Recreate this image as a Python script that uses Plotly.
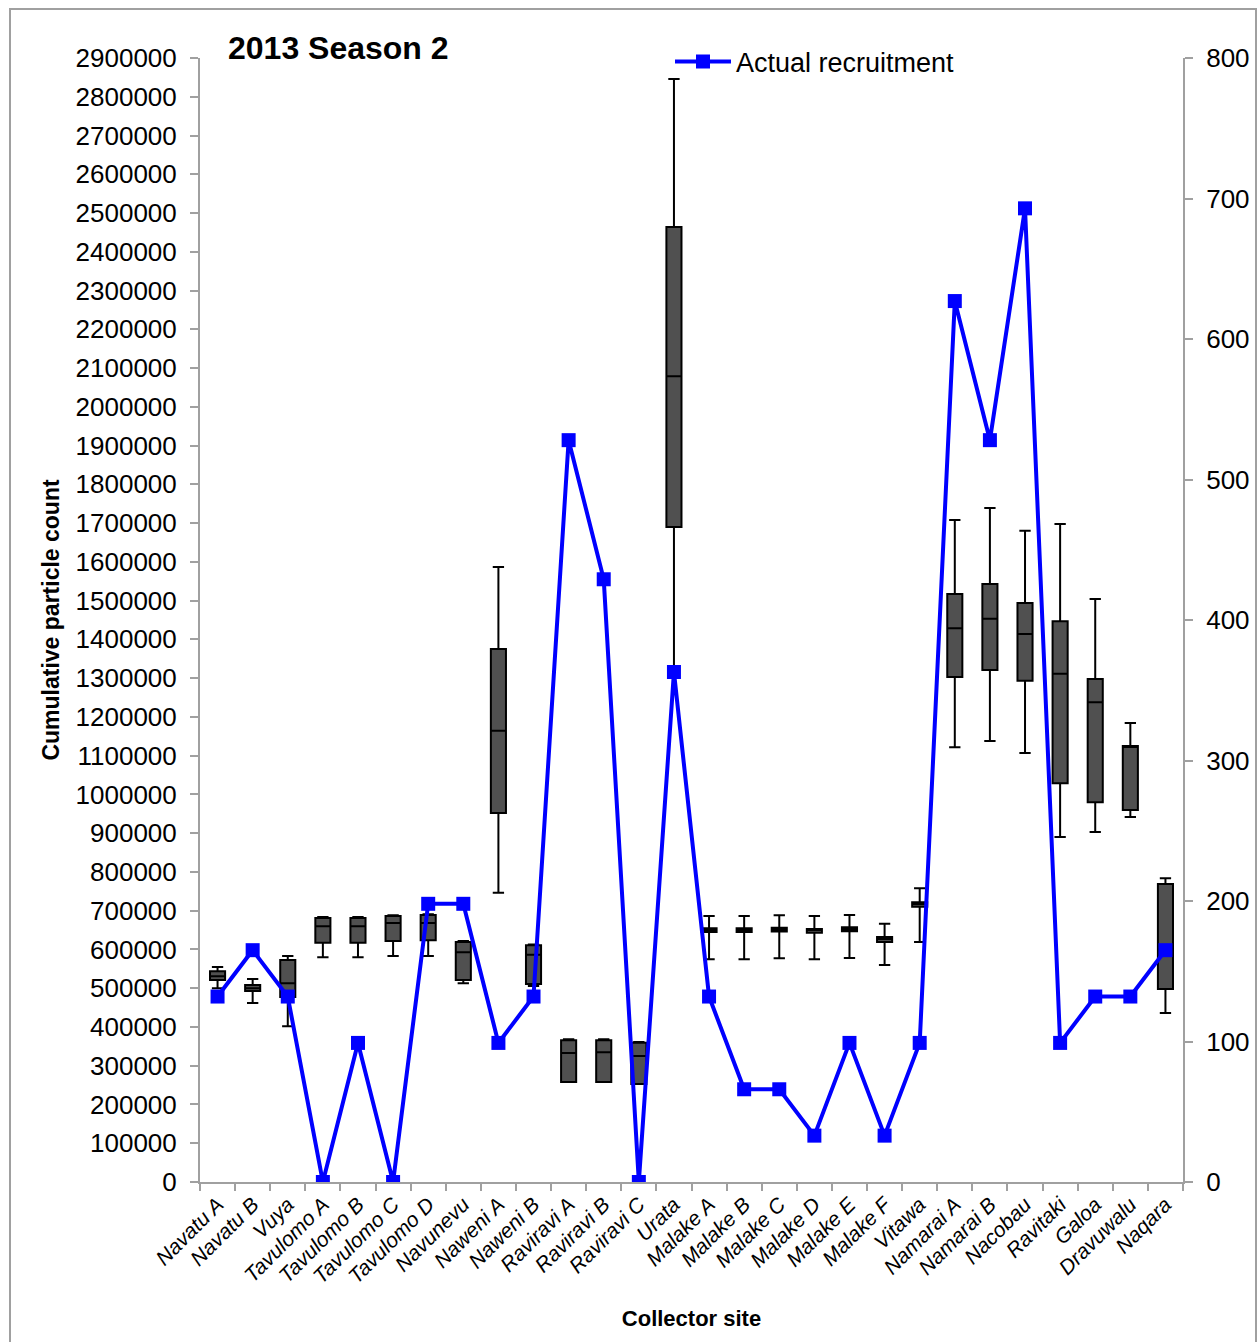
import plotly.graph_objects as go

sites = ["Navatu A", "Navatu B", "Vuya", "Tavulomo A", "Tavulomo B", "Tavulomo C",
         "Tavulomo D", "Navunevu", "Naweni A", "Naweni B", "Raviravi A", "Raviravi B",
         "Raviravi C", "Urata", "Malake A", "Malake B", "Malake C", "Malake D",
         "Malake E", "Malake F", "Vitawa", "Namarai A", "Namarai B", "Nacobau",
         "Ravitaki", "Galoa", "Dravuwalu", "Naqara"]

particle_min = [500000, 462000, 402000, 580000, 580000, 583000, 583000, 513000, 746000, 506000,
                258000, 258000, 253000, 1316000, 575000, 575000, 577000, 575000, 578000, 560000,
                619000, 1122000, 1138000, 1107000, 890000, 903000, 942000, 436000]
particle_q1 = [521000, 493000, 477000, 617000, 617000, 622000, 624000, 521000, 952000, 511000,
               258000, 258000, 253000, 1690000, 645000, 645000, 646000, 643000, 647000, 619000,
               710000, 1303000, 1321000, 1293000, 1029000, 980000, 960000, 498000]
particle_median = [531000, 500000, 513000, 660000, 660000, 668000, 668000, 593000, 1164000, 586000,
                   333000, 335000, 325000, 2079000, 650000, 650000, 651000, 650000, 652000, 627000,
                   717000, 1429000, 1453000, 1414000, 1311000, 1238000, 1125000, 600000]
particle_q3 = [544000, 508000, 573000, 681000, 681000, 686000, 689000, 619000, 1375000, 611000,
               366000, 366000, 359000, 2464000, 655000, 655000, 656000, 653000, 657000, 632000,
               722000, 1517000, 1543000, 1494000, 1447000, 1298000, 1125000, 769000]
particle_max = [555000, 524000, 583000, 684000, 684000, 688000, 691000, 622000, 1587000, 613000,
                368000, 368000, 361000, 2846000, 686000, 686000, 688000, 686000, 689000, 666000,
                758000, 1708000, 1739000, 1680000, 1698000, 1504000, 1184000, 784000]

recruitment = [132, 165, 132, 0, 99, 0, 198, 198, 99, 132, 528, 429, 0, 363, 132, 66, 66, 33,
               99, 33, 99, 627, 528, 693, 99, 132, 132, 165]

left_ticks = list(range(0, 2900001, 100000))
right_ticks = list(range(0, 801, 100))

FONT = "Liberation Sans, Arial, sans-serif"
AXIS_GREY = "#A0A0A0"

fig = go.Figure()

fig.add_trace(go.Box(
    x=sites,
    q1=particle_q1,
    median=particle_median,
    q3=particle_q3,
    lowerfence=particle_min,
    upperfence=particle_max,
    fillcolor="#505050",
    line=dict(color="black", width=2),
    width=0.43,
    whiskerwidth=0.75,
    boxpoints=False,
    showlegend=False,
    name="Particle count",
))

fig.add_trace(go.Scatter(
    x=sites,
    y=recruitment,
    yaxis="y2",
    mode="lines+markers",
    line=dict(color="#0000FF", width=4),
    marker=dict(symbol="square", size=14, color="#0000FF"),
    name="Actual recruitment",
))

W, H = 1259, 1342
L, R, T, B = 200, 76, 58, 160
pw = W - L - R
ph = H - T - B

def px(x):
    return (x - L) / pw

def py(y):
    return (H - B - y) / ph

fig.update_layout(
    width=W, height=H,
    margin=dict(l=L, r=R, t=T, b=B, autoexpand=False),
    paper_bgcolor="white",
    plot_bgcolor="white",
    font=dict(family=FONT, color="black", size=26),
    xaxis=dict(
        type="category",
        categoryorder="array",
        categoryarray=sites,
        range=[-0.5, len(sites) - 0.5],
        tickangle=-45,
        tickfont=dict(family=FONT, size=21, style="italic"),
        showline=True, linecolor=AXIS_GREY, linewidth=2,
        ticks="outside", tickson="boundaries", ticklen=7, tickcolor=AXIS_GREY, tickwidth=2,
        showgrid=False, zeroline=False,
        title=dict(text="<b>Collector site</b>", font=dict(family=FONT, size=22), standoff=24),
    ),
    yaxis=dict(
        range=[0, 2900000],
        tickvals=left_ticks,
        ticktext=[str(v) for v in left_ticks],
        tickfont=dict(family=FONT, size=26),
        showline=True, linecolor=AXIS_GREY, linewidth=2,
        ticks="outside", ticklen=8, tickcolor=AXIS_GREY, tickwidth=2,
        ticklabelstandoff=8,
        showgrid=False, zeroline=False,
        title=dict(text="<b>Cumulative particle count</b>", font=dict(family=FONT, size=23), standoff=10),
    ),
    yaxis2=dict(
        range=[0, 800],
        tickvals=right_ticks,
        overlaying="y",
        side="right",
        tickfont=dict(family=FONT, size=26),
        showline=True, linecolor=AXIS_GREY, linewidth=2,
        ticks="outside", ticklen=8, tickcolor=AXIS_GREY, tickwidth=2,
        ticklabelstandoff=8,
        showgrid=False, zeroline=False,
    ),
    legend=dict(
        x=px(670), y=py(62), xanchor="left", yanchor="middle",
        bgcolor="rgba(0,0,0,0)",
        itemwidth=56,
        font=dict(family=FONT, size=27),
    ),
    annotations=[dict(
        text="<b>2013 Season 2</b>",
        xref="paper", yref="paper", x=px(226), y=py(48),
        xanchor="left", yanchor="middle", showarrow=False,
        font=dict(family=FONT, size=32, color="black"),
    )],
    shapes=[dict(
        type="rect", xref="paper", yref="paper",
        x0=px(10), x1=px(1256), y0=py(1350), y1=py(9),
        line=dict(color="#A0A0A0", width=2), fillcolor="rgba(0,0,0,0)", layer="below",
    )],
)

fig.write_html("out.html", config={"displayModeBar": False},
               post_script="document.body.style.margin='0px';")
